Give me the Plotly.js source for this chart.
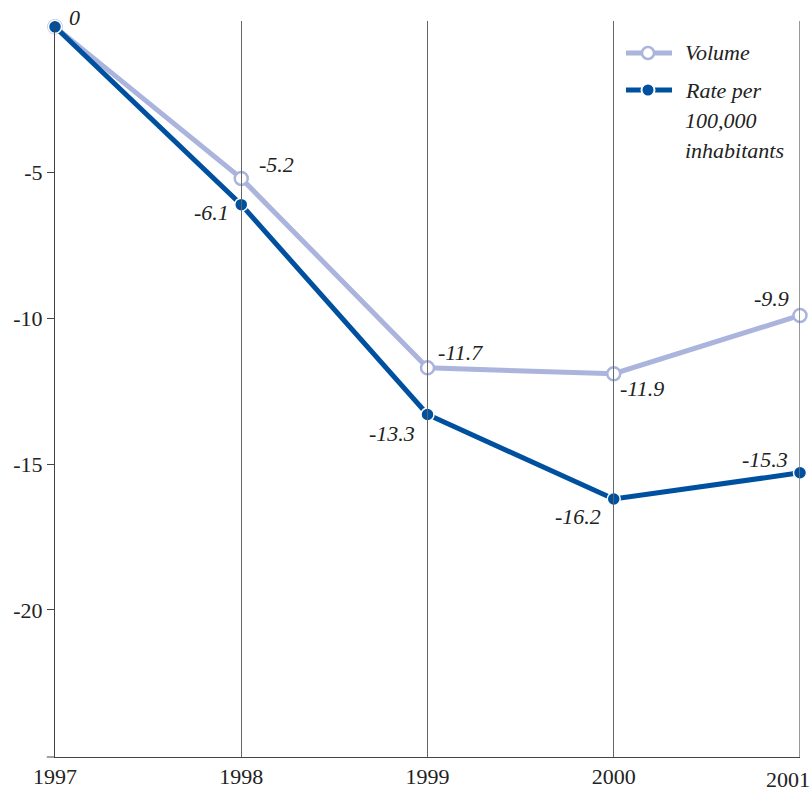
<!DOCTYPE html>
<html>
<head>
<meta charset="utf-8">
<script src="https://cdn.plot.ly/plotly-3.0.1.min.js"></script>
<style>
html,body{margin:0;padding:0;background:#fff;}
#chart{width:812px;height:788px;}
#note{position:absolute;left:300px;top:700px;font:12px 'Liberation Serif';color:#fff;}
</style>
</head>
<body>
<div id="chart"></div>
<div id="note">&nbsp;</div>
<script>
var years = [1997, 1998, 1999, 2000, 2001];
var yearLabels = ['1997', '1998', '1999', '2000', '2001'];
var volume = [0, -5.2, -11.7, -11.9, -9.9];
var rate = [0, -6.1, -13.3, -16.2, -15.3];
var volumeLabels = ['', '-5.2', '-11.7', '-11.9', '-9.9'];
var rateLabels = ['0', '-6.1', '-13.3', '-16.2', '-15.3'];
var yTicks = [-5, -10, -15, -20];
var legendNames = ['Volume', 'Rate per', '100,000', 'inhabitants'];

// label offsets (pixels) - styling only
var volOffsets = [[0, 0], [35, 14], [33, 15], [28, -15], [-29, 17]];
var rateOffsets = [[19, 9], [-30, -8], [-36, -19], [-36, -17], [-35, 13]];

var SERIF = 'Liberation Serif';
var labelFont = {family: SERIF, size: 22, color: '#222', style: 'italic'};
var VOL_COLOR = '#aab4dc', RATE_COLOR = '#0050a0';

var traces = [
  {
    x: years, y: volume, name: 'Volume', type: 'scatter', mode: 'lines+markers',
    line: {color: VOL_COLOR, width: 5},
    marker: {symbol: 'circle', size: 13, color: '#ffffff', line: {color: VOL_COLOR, width: 2.5}},
    cliponaxis: false, hoverinfo: 'none'
  },
  {
    x: years, y: rate, name: 'Rate per 100,000 inhabitants', type: 'scatter', mode: 'lines+markers',
    line: {color: RATE_COLOR, width: 5},
    marker: {symbol: 'circle', size: 13, color: RATE_COLOR, line: {color: '#ffffff', width: 1.5}},
    cliponaxis: false, hoverinfo: 'none'
  }
];

var annotations = [];
function addLabels(ys, labels, offs) {
  for (var i = 0; i < years.length; i++) {
    if (!labels[i]) continue;
    annotations.push({
      x: years[i], y: ys[i], xref: 'x', yref: 'y', text: labels[i], showarrow: false,
      xanchor: 'center', yanchor: 'middle', xshift: offs[i][0], yshift: offs[i][1],
      font: labelFont
    });
  }
}
addLabels(volume, volumeLabels, volOffsets);
addLabels(rate, rateLabels, rateOffsets);

var lastIdx = years.length - 1;
annotations.push({
  x: years[lastIdx], y: 0, xref: 'x', yref: 'paper', text: yearLabels[lastIdx], showarrow: false,
  xanchor: 'center', yanchor: 'top', xshift: -12, yshift: -8,
  font: {family: SERIF, size: 22, color: '#222'}
});

var PL = 55, PW = 745, PB = 757, PH = 736;
function px(x) { return (x - PL) / PW; }
function py(y) { return (PB - y) / PH; }
var legendTextY = [53, 90, 120, 150];
for (var k = 0; k < legendNames.length; k++) {
  annotations.push({
    x: px(683), y: py(legendTextY[k]), xref: 'paper', yref: 'paper', text: legendNames[k],
    showarrow: false, xanchor: 'left', yanchor: 'middle', font: labelFont
  });
}

var shapes = [
  {type: 'line', xref: 'paper', yref: 'paper', x0: -0.011, x1: 0, y0: 0, y1: 0, line: {color: '#444', width: 1}},
  {type: 'line', xref: 'paper', yref: 'paper', x0: px(626), x1: px(672), y0: py(53), y1: py(53), line: {color: VOL_COLOR, width: 5}},
  {type: 'circle', xref: 'paper', yref: 'paper', xsizemode: 'pixel', ysizemode: 'pixel',
   xanchor: px(648), yanchor: py(53), x0: -6, x1: 6, y0: -6, y1: 6,
   fillcolor: '#ffffff', line: {color: VOL_COLOR, width: 2.5}},
  {type: 'line', xref: 'paper', yref: 'paper', x0: px(626), x1: px(672), y0: py(90), y1: py(90), line: {color: RATE_COLOR, width: 5}},
  {type: 'circle', xref: 'paper', yref: 'paper', xsizemode: 'pixel', ysizemode: 'pixel',
   xanchor: px(648), yanchor: py(90), x0: -6.5, x1: 6.5, y0: -6.5, y1: 6.5,
   fillcolor: RATE_COLOR, line: {color: '#ffffff', width: 2}},
  {type: 'line', xref: 'x', yref: 'paper', x0: years[lastIdx], x1: years[lastIdx], y0: 0, y1: 1, line: {color: '#777', width: 1.5}}
];

var layout = {
  width: 812, height: 788,
  margin: {l: 55, r: 12, t: 21, b: 31},
  paper_bgcolor: '#fff', plot_bgcolor: '#fff',
  font: {family: SERIF, size: 22, color: '#222'},
  showlegend: false,
  xaxis: {
    range: [1997, 2001], tickvals: years.slice(0, lastIdx), ticktext: yearLabels.slice(0, lastIdx),
    showgrid: false, zeroline: false, showline: true, linecolor: '#444', linewidth: 1,
    ticks: 'inside', ticklen: 736, tickcolor: '#666', tickwidth: 1,
    tickfont: {family: SERIF, size: 22, color: '#222'},
    fixedrange: true
  },
  yaxis: {
    range: [-25.05, 0.2], tickvals: yTicks, ticktext: yTicks.map(String),
    showgrid: false, zeroline: false, showline: true, linecolor: '#444', linewidth: 1,
    ticks: 'outside', ticklen: 7, tickcolor: '#444',
    tickfont: {family: SERIF, size: 22, color: '#222'},
    fixedrange: true
  },
  annotations: annotations,
  shapes: shapes
};

Plotly.newPlot('chart', traces, layout, {displayModeBar: false, staticPlot: true}).then(function () {
  var t = document.querySelector('#chart .xtick text');
  if (t) { document.getElementById('note').setAttribute('data-font', getComputedStyle(t).fontFamily); }
});
</script>
</body>
</html>
